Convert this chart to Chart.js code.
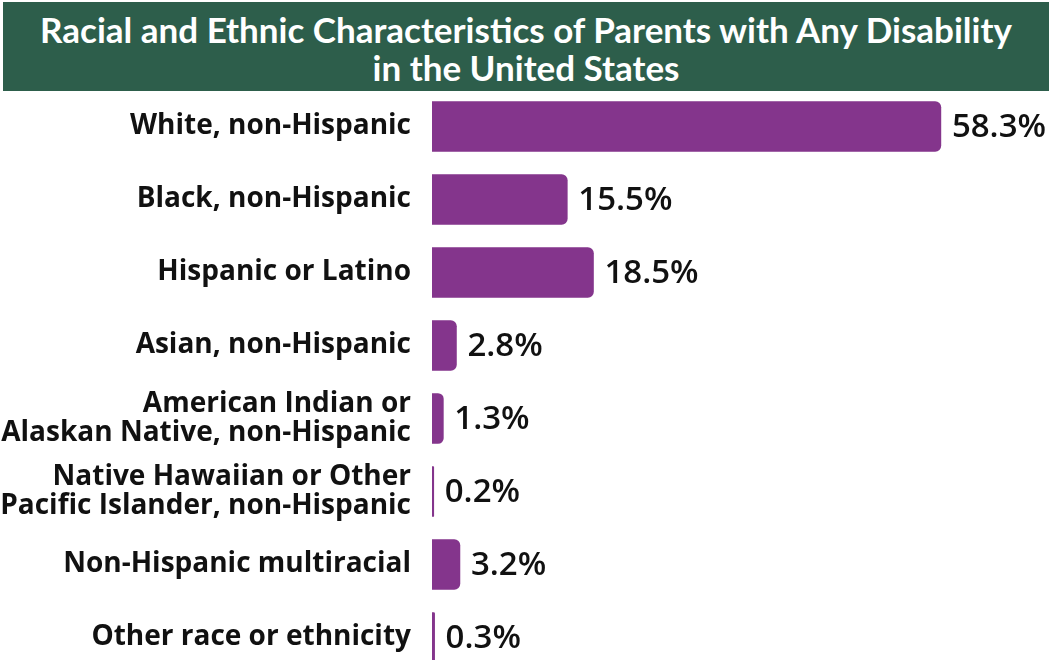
<!DOCTYPE html>
<html>
<head>
<meta charset="utf-8">
<script src="https://cdn.jsdelivr.net/npm/chart.js@4"></script>
<style>
  html, body { margin: 0; padding: 0; background: #fff; overflow: hidden; width: 1054px; height: 660px; }
  #banner {
    position: absolute; top: 2px; left: 3px; width: 1046px; height: 89px;
    background: #2d5e4b; color: #fff; text-align: center;
    font-family: Lato, sans-serif; font-weight: bold; font-size: 35px; line-height: 38px;
    padding-top: 8px; box-sizing: border-box; z-index: 2;
  }
  #wrap { position: absolute; top: 0; left: 0; width: 1054px; height: 680px; }
</style>
</head>
<body>
<div id="banner">Racial and Ethnic Characteristics of Parents with Any Disability<br>in the United States</div>
<div id="wrap"><canvas id="chart"></canvas></div>
<script>
// Categories (multi-line ones as arrays)
const categories = [
    "White, non-Hispanic",
    "Black, non-Hispanic",
    "Hispanic or Latino",
    "Asian, non-Hispanic",
    ["American Indian or", "Alaskan Native, non-Hispanic"],
    ["Native Hawaiian or Other", "Pacific Islander, non-Hispanic"],
    "Non-Hispanic multiracial",
    "Other race or ethnicity"
];
const shares = [58.3, 15.5, 18.5, 2.8, 1.3, 0.2, 3.2, 0.3];

// value labels to the right of each bar
const valueLabels = {
    id: "valueLabels",
    afterDatasetsDraw(chart) {
        const ctx = chart.ctx;
        const meta = chart.getDatasetMeta(0);
        ctx.save();
        ctx.font = "600 33px 'Open Sans', sans-serif";
        ctx.fillStyle = "#111";
        ctx.textAlign = "left";
        ctx.textBaseline = "middle";
        meta.data.forEach((bar, i) => {
            ctx.fillText(shares[i].toFixed(1) + "%", bar.x + 11, bar.y + 1);
        });
        ctx.restore();
    }
};

new Chart(document.getElementById("chart"), {
    type: "bar",
    data: {
        labels: categories,
        datasets: [{
            data: shares,
            backgroundColor: "#84358c",
            borderRadius: 6,
            barThickness: 50
        }]
    },
    options: {
        indexAxis: "y",
        responsive: true,
        maintainAspectRatio: false,
        animation: false,
        layout: { padding: { top: 90, bottom: 6, left: 0, right: 11 } },
        plugins: { legend: { display: false }, tooltip: { enabled: false } },
        scales: {
            x: { display: false, min: 0, max: 70 },
            y: {
                afterFit(scale) {
                    scale.width = 432;
                    // big labels would otherwise shrink the plot area
                    scale.paddingTop = 0;
                    scale.paddingBottom = 0;
                },
                grid: { display: false, drawTicks: false },
                border: { display: false },
                ticks: {
                    padding: 21,
                    color: "#111",
                    font: { family: "'Open Sans', sans-serif", weight: "bold", size: 28, lineHeight: 1.04 }
                }
            }
        }
    },
    plugins: [valueLabels]
});
</script>
</body>
</html>
